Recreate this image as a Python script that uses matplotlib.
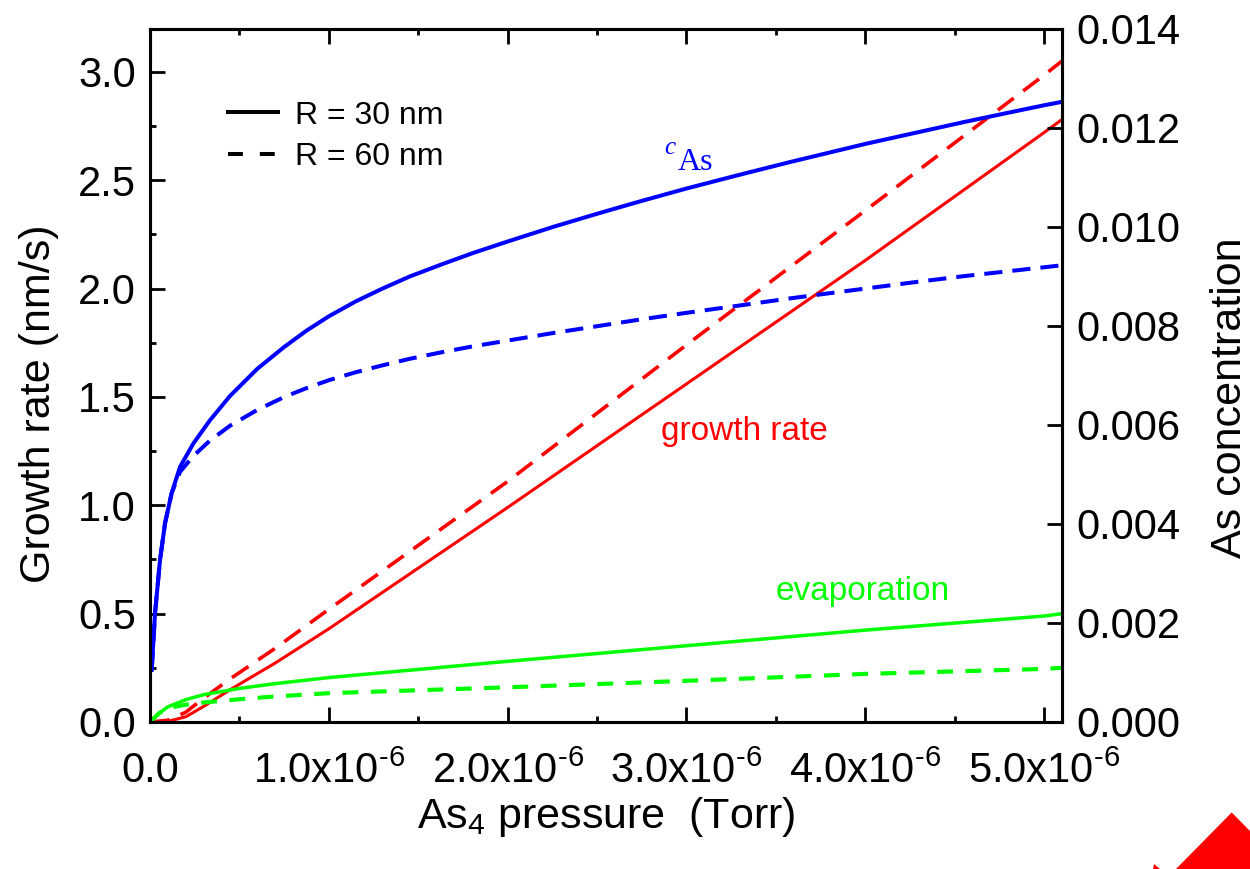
import matplotlib
matplotlib.use('Agg')
import matplotlib.pyplot as plt
from matplotlib.lines import Line2D
from matplotlib.patches import Polygon
from matplotlib.ticker import MultipleLocator, FixedLocator, FormatStrFormatter

plt.rcParams['font.family'] = ['Liberation Sans', 'DejaVu Sans']
plt.rcParams['mathtext.fontset'] = 'custom'
plt.rcParams['mathtext.rm'] = 'Liberation Sans'
plt.rcParams['mathtext.it'] = 'Liberation Sans:italic'

# ---------------- data (pressure in units of 1e-6 Torr) ----------------
p_blue = [0.0095, 0.028, 0.056, 0.084, 0.121, 0.168, 0.242, 0.335, 0.447, 0.6, 0.75,
          0.875, 1.0, 1.15, 1.3, 1.45, 1.625, 1.8, 2.0, 2.25, 2.5, 2.75, 3.0, 3.3,
          3.575, 4.0, 4.3, 4.55, 4.8, 5.0, 5.1]
cas_R30 = [0.00105, 0.00219, 0.00327, 0.00401, 0.00462, 0.00515, 0.00562, 0.00609, 0.00658,
           0.00713, 0.00757, 0.00790, 0.00819, 0.00849, 0.00875, 0.00899, 0.00923, 0.00946,
           0.00970, 0.00999, 0.01026, 0.01052, 0.01077, 0.01105, 0.01130, 0.01167, 0.01191,
           0.01211, 0.01230, 0.01245, 0.01252]
cas_R60 = [0.00105, 0.00219, 0.00327, 0.00401, 0.00462, 0.00505, 0.00537, 0.00568, 0.00598,
           0.00630, 0.00656, 0.00674, 0.00690, 0.00706, 0.00720, 0.00733, 0.00746, 0.00758,
           0.00770, 0.00785, 0.00799, 0.00813, 0.00826, 0.00841, 0.00855, 0.00875, 0.00889,
           0.00900, 0.00910, 0.00918, 0.00922]

p_red = [0.0, 0.1, 0.2, 0.3, 0.45, 0.7, 1.0, 2.0, 3.0, 4.0, 5.0, 5.1]
growth_R30 = [0.0, 0.003, 0.024, 0.072, 0.15, 0.272, 0.43, 0.99, 1.56, 2.13, 2.72, 2.78]
growth_R60 = [0.0, 0.008, 0.045, 0.11, 0.20, 0.34, 0.52, 1.11, 1.74, 2.36, 2.985, 3.05]

p_green = [0.0, 0.05, 0.1, 0.2, 0.3, 0.5, 0.7, 1.0, 2.0, 3.0, 4.0, 5.0, 5.1]
evap_R30 = [0.0, 0.04, 0.07, 0.103, 0.126, 0.155, 0.177, 0.205, 0.28, 0.352, 0.424, 0.489, 0.50]
evap_R60 = [0.0, 0.04, 0.065, 0.08, 0.09, 0.105, 0.118, 0.133, 0.16, 0.19, 0.222, 0.245, 0.25]

x_ticks = [0.0, 1.0, 2.0, 3.0, 4.0, 5.0]
x_tick_labels = ['0.0', '1.0x10$^{\u20106}$', '2.0x10$^{\u20106}$', '3.0x10$^{\u20106}$',
                 '4.0x10$^{\u20106}$', '5.0x10$^{\u20106}$']
legend_labels = ['R = 30 nm', 'R = 60 nm']

scale = 1e-6
px_blue = [v * scale for v in p_blue]
px_red = [v * scale for v in p_red]
px_green = [v * scale for v in p_green]

BLUE = '#0000FF'
RED = '#FF0000'
GREEN = '#00FF00'

fig = plt.figure(figsize=(12.5, 8.69), dpi=100)
ax = fig.add_axes([0.12, 0.16916, 0.7296, 0.79804])
ax2 = ax.twinx()

# red: growth rate (left axis)
ax.plot(px_red, growth_R60, color=RED, lw=2.6, dashes=(5.5, 3.3))
ax.plot(px_red, growth_R30, color=RED, lw=2.2)
# green: evaporation (left axis)
ax.plot(px_green, evap_R60, color=GREEN, lw=3.0, dashes=(3.8, 3.0))
ax.plot(px_green, evap_R30, color=GREEN, lw=2.5)
# blue: As concentration (right axis)
ax2.plot(px_blue, cas_R60, color=BLUE, lw=2.9, dashes=(4.5, 2.5))
ax2.plot(px_blue, cas_R30, color=BLUE, lw=2.9)

ax.set_xlim(0, 5.1e-6)
ax.set_ylim(0, 3.2)
ax2.set_ylim(0, 0.014)

ax.xaxis.set_major_locator(FixedLocator([v * scale for v in x_ticks]))
ax.set_xticklabels(x_tick_labels)
ax.xaxis.set_minor_locator(MultipleLocator(0.5e-6))
ax.yaxis.set_major_locator(MultipleLocator(0.5))
ax.yaxis.set_minor_locator(MultipleLocator(0.25))
ax.yaxis.set_major_formatter(FormatStrFormatter('%.1f'))
ax2.yaxis.set_major_locator(MultipleLocator(0.002))
ax2.yaxis.set_major_formatter(FormatStrFormatter('%.3f'))

ax.tick_params(which='both', direction='in', top=True, right=False, width=2.0)
ax.tick_params(which='major', length=10.5, labelsize=30)
ax.tick_params(which='minor', length=4)
ax.tick_params(axis='y', which='major', pad=10)
ax.tick_params(axis='x', which='major', pad=21)
ax2.tick_params(which='both', direction='in', width=2.0)
ax2.tick_params(which='major', length=10.5, labelsize=30, pad=10)

for a in (ax, ax2):
    for s in a.spines.values():
        s.set_linewidth(2.2)

ax.set_ylabel('Growth rate (nm/s)', fontsize=31)
ax.yaxis.set_label_coords(-0.10, 0.4585)
ax2.set_ylabel('As concentration', fontsize=31)
ax2.yaxis.set_label_coords(1.162, 0.467)
ax.set_xlabel('As$_4$ pressure  (Torr)', fontsize=31)
ax.xaxis.set_label_coords(0.5, -0.105)

# curve annotations
ax.text(3.324e-6, 1.30, 'growth rate', color=RED, fontsize=24, ha='center', va='baseline')
ax.text(3.983e-6, 0.565, 'evaporation', color=GREEN, fontsize=24, ha='center', va='baseline')
ax.text(2.877e-6, 2.623, 'c', family='Liberation Serif', style='italic', color=BLUE,
        fontsize=18, va='baseline')
ax.text(2.95e-6, 2.545, 'As', family='Liberation Serif', color=BLUE, fontsize=23,
        va='baseline')

handles = [Line2D([], [], color='black', lw=2.9),
           Line2D([], [], color='black', lw=2.9, dashes=(3.7, 4.2))]
ax2.legend(handles, legend_labels, loc='upper left', bbox_to_anchor=(0.086, 0.896),
           frameon=False, fontsize=23, handlelength=1.55, handletextpad=0.53,
           labelspacing=0.35, borderaxespad=0, borderpad=0)

# red decoration at bottom-right corner
fig.add_artist(Polygon([(0.98536, 0.06502), (1.0, 0.04373), (1.0, 0.0), (0.9408, 0.0)],
                       closed=True, transform=fig.transFigure, color=RED, lw=0))
fig.add_artist(Polygon([(0.9232, 0.0058), (0.928, 0.0), (0.9224, 0.0)],
                       closed=True, transform=fig.transFigure, color=RED, lw=0))

fig.savefig('out.png', dpi=100)
